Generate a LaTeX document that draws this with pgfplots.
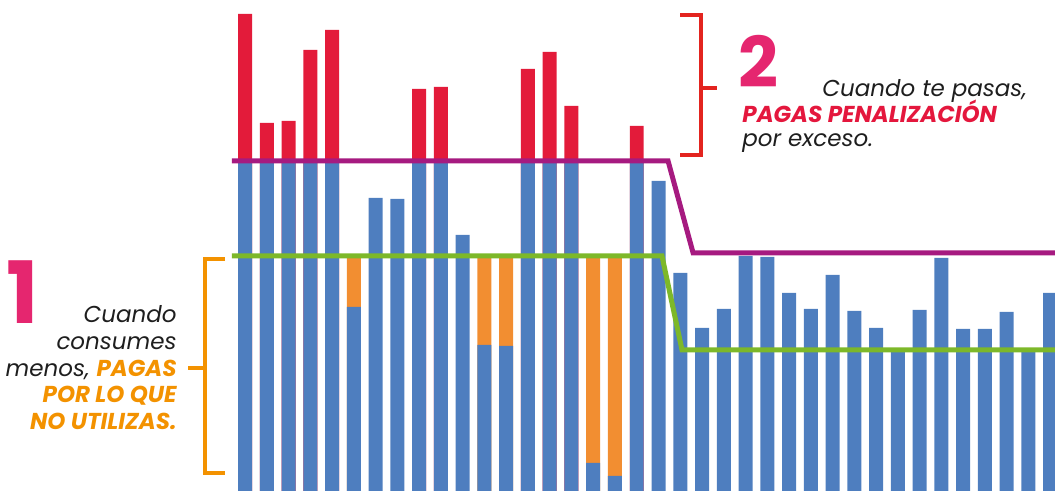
\documentclass[border=0pt]{standalone}
\usepackage{pgfplots}
\pgfplotsset{compat=1.18}
\usepackage{fontspec}
\setmainfont{Poppins}
\definecolor{barblue}{HTML}{4E7EBF}
\definecolor{barred}{HTML}{E31B3A}
\definecolor{barorange}{HTML}{F28E31}
\definecolor{linepurple}{HTML}{A61A80}
\definecolor{linegreen}{HTML}{7DB829}
\definecolor{txtorange}{HTML}{F39200}
\definecolor{brred}{HTML}{E3241F}
\definecolor{numpink}{HTML}{E5266F}
\definecolor{txtred}{HTML}{E4173D}
\definecolor{txtgray}{HTML}{1E1E1E}
\begin{document}
\begin{tikzpicture}
\begin{axis}[
  scale only axis, width=527.5pt, height=245.5pt,
  xmin=-10.26, xmax=38.22, ymin=0, ymax=491,
  hide axis,
]
% excess (total height where consumption exceeds the contracted level)
\addplot[ybar, bar width=0.643, bar shift=0pt, fill=barred, draw=none] coordinates {
(1,477) (2,368) (3,370) (4,441) (5,461) (9,402) (10,404) (14,422) (15,439) (16,385) (19,365)};
% unused contracted level
\addplot[ybar, bar width=0.643, bar shift=0pt, fill=barorange, draw=none] coordinates {
(6,235) (12,235) (13,235) (17,235) (18,235)};
% consumption (billed base)
\addplot[ybar, bar width=0.643, bar shift=0pt, fill=barblue, draw=none] coordinates {
(1,330) (2,330) (3,330) (4,330) (5,330) (6,184) (7,293) (8,292) (9,330) (10,330)
(11,256) (12,146) (13,145) (14,330) (15,330) (16,330) (17,28) (18,15) (19,330) (20,310)
(21,218) (22,163) (23,182) (24,235) (25,234) (26,198) (27,182) (28,216) (29,180) (30,163)
(31,141) (32,181) (33,233) (34,162) (35,162) (36,179) (37,141) (38,198)};
% upper limit
\addplot[linepurple, line width=2.5pt, line join=miter] coordinates {
(0.40,330) (20.44,330) (21.59,238) (38.3,238)};
% lower (contracted) limit
\addplot[linegreen, line width=2.5pt, line join=miter] coordinates {
(0.40,235) (20.16,235) (21.08,141) (38.3,141)};
\end{axis}
\begin{scope}[x=0.5pt, y=-0.5pt, yshift=245.5pt]
  % bracket 1
  \draw[txtorange, line width=2pt] (225,259) -- (205,259) -- (205,473) -- (225,473);
  \draw[txtorange, line width=2pt] (188,368) -- (205,368);
  % bracket 2
  \draw[brred, line width=2pt] (680,15) -- (701,15) -- (701,155) -- (680,155);
  \draw[brred, line width=2pt] (701,88) -- (717,88);
  % big numbers
  \node[anchor=base west, inner sep=0, text=numpink, font=\fontsize{43}{43}\selectfont\bfseries] at (6,324) {1};
  \node[anchor=base west, inner sep=0, text=numpink, font=\fontsize{35}{35}\selectfont\bfseries] at (738,88) {2};
  % text 1
  \begin{scope}[every node/.style={anchor=base east, inner sep=0, text=txtgray, font=\fontsize{11.5}{13}\selectfont\itshape}]
    \node at (177,323) {Cuando};
    \node at (177,350) {consumes};
    \node at (177,377) {menos, \textcolor{txtorange}{\bfseries PAGAS}};
    \node[text=txtorange, font=\fontsize{11.5}{13}\selectfont\bfseries\itshape] at (177,403) {POR LO QUE};
    \node[text=txtorange, font=\fontsize{11.5}{13}\selectfont\bfseries\itshape] at (177,430) {NO UTILIZAS.};
  \end{scope}
  % text 2
  \begin{scope}[every node/.style={anchor=base west, inner sep=0, text=txtgray, font=\fontsize{11.5}{13}\selectfont\itshape}]
    \node at (822,97) {Cuando te pasas,};
    \node[text=txtred, font=\fontsize{11.5}{13}\selectfont\bfseries\itshape] at (742,123) {PAGAS PENALIZACIÓN};
    \node at (742,147) {por exceso.};
  \end{scope}
\end{scope}
\pgfresetboundingbox
\path[use as bounding box] (0,0) rectangle (527.5pt,245.5pt);
\end{tikzpicture}
\end{document}
